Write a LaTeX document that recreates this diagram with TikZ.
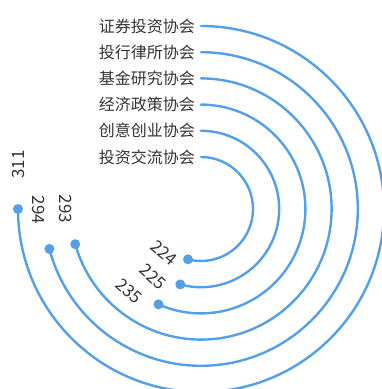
\documentclass[tikz,border=0pt]{standalone}
\usepackage{fontspec}
\setmainfont{Noto Sans CJK SC}
\usetikzlibrary{calc}
\definecolor{barblu}{RGB}{84,160,232}
\definecolor{testogrigio}{RGB}{52,52,52}

\begin{document}
\begin{tikzpicture}[x=1pt,y=1pt,
	barra/.style={barblu,line width=2.4pt,line cap=round},
	nome/.style={anchor=east,text=testogrigio,font=\fontsize{16}{16}\selectfont,inner sep=0pt},
	valore/.style={text=testogrigio,font=\fontsize{17}{17}\selectfont,inner sep=0pt}]
\pgfmathsetmacro{\maxval}{311}
\pgfmathsetmacro{\maxang}{270}

\useasboundingbox (0,0) rectangle (382,389);
\clip (0,0) rectangle (382,389);
\coordinate (o) at (201,180);

\foreach \i/\testo/\val/\rot in {0/投资交流协会/224/-40,1/创意创业协会/225/-42,2/经济政策协会/235/-42,3/基金研究协会/293/-90,4/投行律所协会/294/-90,5/证券投资协会/311/90}
{
	\pgfmathsetmacro{\raggio}{52+26.2*\i}
	\pgfmathsetmacro{\fine}{90-\val/\maxval*\maxang}
	\pgfmathsetmacro{\dist}{17+0.15*\raggio}
	\node[nome] (n\i) at ($(o)+(-6,\raggio)$) {\testo};
	\draw[barra] ($(o)+(0,\raggio)$) arc[start angle=90,end angle=\fine,radius=\raggio];
	\coordinate (p\i) at ($(o)+(\fine:\raggio)$);
	\fill[barblu] (p\i) circle (5);
	\node[valore,rotate=\rot] (v\i) at ($(p\i)+(\fine-90:\dist)$) {\val};
}

\end{tikzpicture}
\end{document}
